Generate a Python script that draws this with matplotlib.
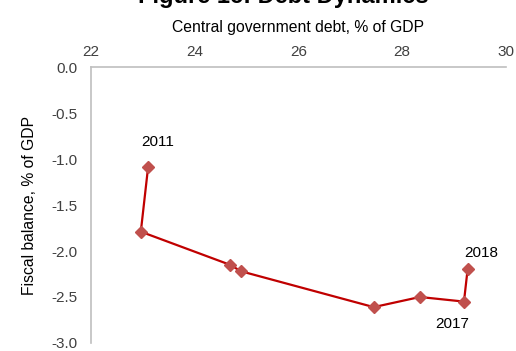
import matplotlib.pyplot as plt

plt.rcParams['font.family'] = ['Liberation Sans', 'DejaVu Sans']

debt = [23.10, 22.96, 24.68, 24.89, 27.45, 28.34, 29.19, 29.26]
balance = [-1.09, -1.79, -2.15, -2.22, -2.61, -2.50, -2.55, -2.20]
years = ["2011", "", "", "", "", "", "2017", "2018"]
label_offsets = {"2011": (10, 25), "2017": (-12, -22), "2018": (14, 16)}

fig = plt.figure(figsize=(5.16, 3.51), dpi=100)
ax = fig.add_axes([0.1764, 0.0228, 0.8042, 0.7863])

ax.plot(debt, balance, color="#C00000", lw=1.6, zorder=2)
ax.plot(debt, balance, ls="none", marker="D", ms=6.5, color="#C0504D", zorder=3)

for x, y, yr in zip(debt, balance, years):
    if yr:
        ax.annotate(yr, (x, y), xytext=label_offsets[yr], textcoords="offset pixels",
                    ha="center", va="center", fontsize=11)

ax.set_xlim(22, 30)
ax.set_ylim(-3.0, 0.0)
ax.set_xticks([22, 24, 26, 28, 30])
ax.set_yticks([0.0, -0.5, -1.0, -1.5, -2.0, -2.5, -3.0])
ax.set_yticklabels([f"{v:.1f}" for v in [0.0, -0.5, -1.0, -1.5, -2.0, -2.5, -3.0]])
ax.xaxis.tick_top()
ax.xaxis.set_label_position("top")
ax.tick_params(length=0, labelsize=11, colors="#404040", pad=6)
ax.tick_params(axis="y", pad=10)
for s in ["bottom", "right"]:
    ax.spines[s].set_visible(False)
for s in ["top", "left"]:
    ax.spines[s].set_color("#BFBFBF")
    ax.spines[s].set_linewidth(1.2)

ax.set_xlabel("Central government debt, % of GDP", fontsize=11.3, labelpad=9)
ax.set_ylabel("Fiscal balance, % of GDP", fontsize=11.3, labelpad=10)

# title sits mostly above the figure edge, as in the source crop
fig.text(0.55, 1 - 3 / 351, "Figure 1c: Debt Dynamics", ha="center", va="baseline",
         fontsize=17, fontweight="bold")

fig.savefig("out.png", dpi=100)
